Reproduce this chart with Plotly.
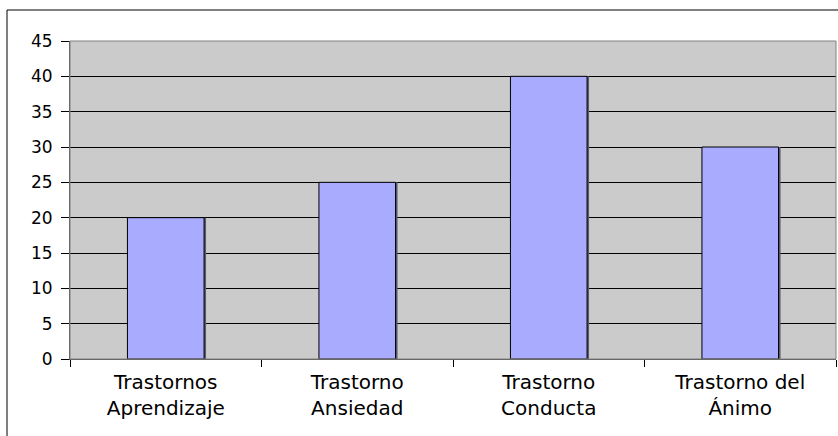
import plotly.graph_objects as go

categories = ["Trastornos<br>Aprendizaje", "Trastorno<br>Ansiedad", "Trastorno<br>Conducta", "Trastorno del<br>Ánimo"]
values = [20, 25, 40, 30]
y_ticks = [0, 5, 10, 15, 20, 25, 30, 35, 40, 45]

W, H = 838, 436
L, R, T, B = 70, 836, 41, 359
pw, ph = R - L, B - T
bar_w = 0.4
shadow_shift = 2.0 / (pw / len(categories))

fig = go.Figure()
# shadow on the right side of each bar
fig.add_trace(go.Bar(
    x=categories, y=values, width=bar_w, offset=-bar_w / 2 + shadow_shift,
    marker=dict(color="#5A5A6E", line=dict(width=0)),
    showlegend=False, hoverinfo="skip",
))
fig.add_trace(go.Bar(
    x=categories, y=values, width=bar_w, offset=-bar_w / 2,
    marker=dict(color="#A9ABFF", line=dict(color="#000000", width=1)),
    showlegend=False,
))

fig.update_layout(
    width=W, height=H,
    barmode="overlay",
    margin=dict(l=L, r=W - R, t=T, b=H - B, pad=0),
    paper_bgcolor="white",
    plot_bgcolor="#CBCBCB",
    font=dict(family="DejaVu Sans, Liberation Sans, Arial, sans-serif", size=18, color="black"),
    xaxis=dict(
        showgrid=False, showline=True, linecolor="#505050", linewidth=1,
        ticks="outside", tickson="boundaries", ticklen=7, tickcolor="#000000",
        tickfont=dict(size=20), ticklabelstandoff=5, fixedrange=True,
    ),
    yaxis=dict(
        range=[0, 45], tickvals=y_ticks, showgrid=True, gridcolor="#000000", gridwidth=1,
        showline=True, linecolor="#505050", linewidth=1,
        ticks="outside", ticklen=8, tickcolor="#000000",
        zeroline=False, tickfont=dict(size=17), ticklabelstandoff=5, fixedrange=True,
    ),
    shapes=[
        dict(type="rect", xref="paper", yref="paper", x0=0, x1=1, y0=0, y1=1,
             line=dict(color="#808080", width=1), layer="above"),
        dict(type="rect", xref="paper", yref="paper",
             x0=(7 - L) / pw, x1=(845 - L) / pw, y0=(B - 445) / ph, y1=(B - 10) / ph,
             line=dict(color="#000000", width=1)),
    ],
)

fig.write_html("out.html", config={"displayModeBar": False},
               post_script="document.body.style.margin='0';document.body.style.overflow='hidden';")
